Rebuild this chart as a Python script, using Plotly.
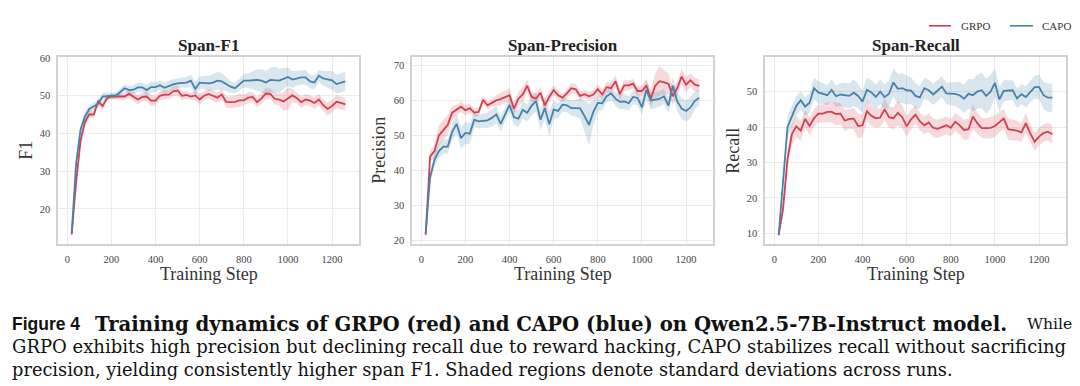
import plotly.graph_objects as go

steps = list(range(20, 1261, 20))

f1_grpo = [13.2, 27, 38, 43, 45.1, 45, 48.5, 47.3, 49.3, 49.8, 49.8, 49.8, 49.8, 50.5, 49.8, 49.0, 49.7, 49.8, 48.7, 48.7,
           50.0, 50.3, 50.3, 51.2, 51.4, 50.0, 50.2, 49.8, 50.1, 49.0, 50.0, 50.5, 50.0, 49.5, 50.3, 48.4, 48.3, 48.4, 48.8, 48.8,
           49.5, 49.7, 48.3, 49.3, 50.6, 50.5, 49.2, 49.0, 48.5, 49.2, 50.1, 49.4, 48.3, 49.0, 48.7, 48.1, 49.0, 47.5, 46.5, 47.3,
           48.4, 48.1, 47.7]
f1_grpo_sd = [0.3, 1.0, 1.2, 1.2, 1.0, 1.0, 1.0, 1.2, 0.8, 0.7, 0.8, 0.8, 0.9, 1.0, 1.2, 1.3, 1.2, 1.2, 1.5, 1.3,
              1.2, 1.2, 1.2, 1.3, 1.3, 1.2, 1.0, 1.0, 1.2, 1.5, 1.2, 1.3, 1.4, 1.4, 1.4, 1.5, 1.6, 1.6, 1.8, 1.5,
              1.5, 1.2, 1.4, 1.4, 1.5, 1.4, 1.5, 1.6, 2.5, 3.0, 1.8, 1.4, 1.5, 1.5, 1.4, 1.6, 1.5, 1.5, 1.8, 1.7,
              1.8, 1.8, 1.7]
f1_capo = [13.5, 32, 41, 44.5, 46.5, 47.2, 47.9, 49.8, 50.0, 50.0, 50.0, 51.0, 52.0, 51.5, 51.6, 52.2, 52.2, 51.5, 52.3, 52.3,
           52.8, 52.1, 52.6, 53.0, 53.3, 53.5, 53.5, 54.0, 51.8, 53.5, 53.4, 53.3, 53.5, 54.0, 53.8, 53.1, 52.4, 52.0, 53.0, 54.0,
           54.0, 54.2, 54.2, 54.0, 53.5, 54.2, 54.2, 54.0, 54.5, 55.0, 54.3, 54.7, 54.9, 54.9, 53.8, 53.5, 55.3, 54.6, 54.4, 54.1,
           53.1, 53.5, 53.8]
f1_capo_sd = [0.3, 1.0, 1.2, 1.2, 1.0, 1.0, 1.0, 1.0, 0.8, 0.8, 0.9, 1.0, 1.0, 1.0, 1.2, 1.3, 1.2, 1.4, 1.5, 1.3,
              1.3, 1.5, 1.5, 1.4, 1.3, 1.3, 1.5, 1.6, 2.0, 1.6, 1.8, 2.0, 2.2, 2.4, 2.2, 2.0, 1.6, 1.4, 1.6, 1.8,
              2.0, 2.4, 2.8, 3.0, 3.0, 3.2, 3.5, 3.2, 2.8, 2.5, 2.2, 2.0, 2.0, 2.0, 1.8, 1.8, 1.6, 2.0, 2.2, 2.5,
              2.5, 2.6, 2.6]

pr_grpo = [21.5, 44.0, 45.5, 50.0, 51.5, 53.0, 56.5, 57.3, 58.2, 57.2, 57.8, 56.5, 56.7, 60.2, 58.6, 59.3, 60.0, 60.4, 61.0, 61.5,
           57.6, 60.5, 61.7, 64.2, 61.0, 60.5, 62.2, 58.6, 61.0, 63.0, 61.5, 60.8, 62.0, 63.5, 63.2, 61.3, 61.8, 61.2, 61.7, 63.2,
           61.7, 63.8, 63.5, 65.5, 61.8, 64.3, 64.3, 64.8, 62.7, 62.7, 64.3, 60.5, 64.2, 65.5, 65.2, 64.8, 61.2, 63.5, 66.8, 64.5,
           65.8, 64.5, 64.2]
pr_grpo_sd = [0.3, 1.5, 2.0, 3.0, 3.0, 2.8, 2.0, 1.5, 1.5, 1.5, 1.4, 1.2, 1.2, 1.2, 1.2, 1.2, 1.5, 1.8, 1.8, 2.0,
              1.8, 2.0, 2.2, 1.8, 1.5, 1.4, 1.6, 2.0, 1.6, 1.4, 1.3, 1.2, 1.4, 1.5, 1.4, 1.2, 1.2, 1.2, 1.3, 1.4,
              1.4, 1.5, 1.6, 1.8, 1.6, 1.6, 1.4, 1.4, 1.5, 1.6, 2.0, 2.5, 3.5, 4.2, 3.5, 3.0, 2.5, 2.0, 2.2, 2.2,
              2.0, 2.0, 1.8]
pr_capo = [22.0, 38.0, 43.0, 45.5, 46.8, 46.8, 51.0, 53.3, 49.2, 50.7, 50.5, 54.5, 54.0, 54.2, 54.3, 55.0, 56.0, 53.3, 56.0, 58.7,
           55.2, 54.8, 57.3, 56.5, 58.5, 59.8, 54.5, 57.8, 53.2, 57.4, 57.0, 58.8, 58.6, 57.8, 57.8, 57.7, 55.5, 53.0, 56.7, 59.3,
           59.2, 61.2, 62.0, 60.5, 59.6, 59.7, 59.2, 61.0, 60.7, 58.0, 63.0, 60.0, 60.2, 60.5, 61.2, 58.5, 64.2, 59.7, 57.7, 57.0,
           58.0, 59.9, 60.8]
pr_capo_sd = [0.3, 1.5, 2.0, 2.0, 2.0, 2.0, 2.5, 2.8, 3.0, 3.2, 3.0, 2.2, 2.0, 2.0, 2.2, 2.5, 2.5, 2.2, 2.0, 2.0,
              2.2, 2.5, 2.5, 2.5, 2.8, 3.0, 3.0, 3.2, 3.5, 2.5, 2.2, 2.0, 2.0, 2.2, 2.5, 3.0, 4.5, 6.0, 3.5, 2.5,
              2.0, 1.8, 1.8, 2.0, 2.2, 2.2, 2.0, 2.0, 2.0, 2.2, 2.8, 2.5, 2.2, 2.2, 2.2, 2.2, 2.5, 2.8, 3.0, 3.0,
              3.0, 2.5, 2.2]

rc_grpo = [9.5, 17.0, 31.0, 38.0, 40.2, 39.0, 42.3, 40.3, 42.5, 43.8, 43.8, 44.3, 44.3, 43.7, 43.8, 41.8, 42.3, 42.4, 40.3, 40.5,
           44.5, 43.2, 42.5, 42.7, 45.0, 42.8, 42.5, 44.0, 42.8, 40.2, 42.2, 43.5, 41.6, 40.5, 41.3, 39.8, 39.5, 40.0, 40.5, 39.8,
           41.5, 40.5, 39.2, 39.4, 43.0, 41.1, 39.7, 39.7, 39.8, 40.3, 41.3, 42.4, 39.4, 39.2, 39.0, 38.5, 41.1, 38.2, 35.9, 37.3,
           38.3, 38.7, 38.0]
rc_grpo_sd = [0.3, 1.5, 2.5, 3.0, 3.0, 2.8, 2.5, 2.5, 2.5, 2.5, 2.6, 2.8, 3.0, 3.2, 3.0, 3.0, 2.8, 3.0, 3.5, 3.2,
              3.0, 2.8, 2.6, 2.6, 3.0, 3.0, 3.2, 3.5, 3.2, 3.0, 2.8, 2.5, 2.5, 2.5, 2.6, 2.6, 2.6, 2.5, 2.5, 2.5,
              2.5, 2.6, 2.8, 3.0, 3.5, 3.0, 2.8, 2.8, 3.0, 3.0, 3.0, 2.8, 3.0, 3.0, 2.8, 2.6, 2.8, 2.6, 2.6, 2.5,
              2.5, 2.5, 2.5]
rc_capo = [9.5, 25.0, 40.0, 43.0, 46.0, 47.6, 45.8, 46.9, 51.0, 49.8, 49.5, 49.0, 50.5, 48.7, 49.2, 49.0, 48.8, 49.7, 48.8, 47.2,
           50.5, 49.8, 48.5, 50.0, 48.5, 49.4, 52.6, 50.8, 51.0, 50.4, 50.3, 48.8, 48.4, 51.0, 50.4, 49.2, 50.3, 51.4, 49.5, 49.4,
           49.4, 49.0, 48.0, 49.4, 49.0, 50.0, 50.4, 48.8, 50.0, 52.5, 47.8, 50.2, 50.4, 50.4, 48.1, 49.3, 48.5, 50.0, 51.3, 51.3,
           49.0, 48.3, 48.3]
rc_capo_sd = [0.3, 2.0, 3.0, 3.0, 2.8, 2.6, 2.6, 2.8, 3.0, 3.2, 3.0, 2.8, 3.0, 3.0, 3.2, 3.5, 3.5, 3.8, 3.5, 3.2,
              3.5, 3.5, 3.5, 3.5, 3.5, 3.8, 4.0, 4.2, 4.2, 4.0, 3.8, 3.5, 3.2, 3.0, 3.0, 3.0, 3.0, 3.0, 3.0, 3.2,
              3.5, 3.8, 4.0, 4.2, 4.5, 4.8, 5.0, 5.0, 4.8, 4.0, 3.5, 3.0, 2.8, 2.8, 2.8, 2.8, 3.0, 3.0, 3.2, 3.5,
              3.8, 4.0, 4.0]

panel_titles = ["Span-F1", "Span-Precision", "Span-Recall"]
y_titles = ["F1", "Precision", "Recall"]
x_title = "Training Step"
x_ticks = [0, 200, 400, 600, 800, 1000, 1200]
y_ticks = [[20, 30, 40, 50, 60], [20, 30, 40, 50, 60, 70], [10, 20, 30, 40, 50]]
y_ranges = [[10.6, 60.2], [18.8, 72.35], [6.9, 59.7]]
series_names = ["GRPO", "CAPO"]

RED = "#d1404f"
BLUE = "#4682a9"
RED_FILL = "rgba(209,64,79,0.2)"
BLUE_FILL = "rgba(70,130,169,0.2)"

W, H = 1080, 386
px_domains = [(50, 351), (404, 705), (757, 1058)]
ytitle_x = [18, 371, 725]
top_px, bot_px = 45, 235

panels = [
    [(f1_grpo, f1_grpo_sd), (f1_capo, f1_capo_sd)],
    [(pr_grpo, pr_grpo_sd), (pr_capo, pr_capo_sd)],
    [(rc_grpo, rc_grpo_sd), (rc_capo, rc_capo_sd)],
]

fig = go.Figure()
serif = "Liberation Serif"
cap_font = "DejaVu Serif"

for i, panel in enumerate(panels):
    xa = "x" if i == 0 else f"x{i+1}"
    ya = "y" if i == 0 else f"y{i+1}"
    for j, (mean, sd) in enumerate(panel):
        fill_c = RED_FILL if j == 0 else BLUE_FILL
        upper = [m + s for m, s in zip(mean, sd)]
        lower = [m - s for m, s in zip(mean, sd)]
        fig.add_trace(go.Scatter(
            x=steps + steps[::-1], y=upper + lower[::-1], fill="toself",
            fillcolor=fill_c, line=dict(width=0), mode="lines",
            hoverinfo="skip", showlegend=False, xaxis=xa, yaxis=ya))
    for j, (mean, sd) in enumerate(panel):
        line_c = RED if j == 0 else BLUE
        fig.add_trace(go.Scatter(
            x=steps, y=mean, mode="lines", line=dict(color=line_c, width=1.8),
            name=series_names[j], showlegend=False, xaxis=xa, yaxis=ya))

axis_common = dict(showgrid=True, gridcolor="#ebebeb", gridwidth=1, zeroline=False,
                   showline=True, linecolor="#d2d2d2", linewidth=1.5, mirror=True,
                   ticks="", tickfont=dict(family=serif, size=10.5, color="#444444"))

layout = dict(width=W, height=H, margin=dict(l=0, r=0, t=0, b=0),
              paper_bgcolor="white", plot_bgcolor="white", showlegend=False)

annotations = []
shapes = []
for i in range(3):
    xk = "xaxis" if i == 0 else f"xaxis{i+1}"
    yk = "yaxis" if i == 0 else f"yaxis{i+1}"
    x0, x1 = px_domains[i]
    layout[xk] = dict(axis_common, domain=[x0 / W, x1 / W], range=[-42, 1322],
                      tickvals=x_ticks, anchor="y" if i == 0 else f"y{i+1}", ticklabelstandoff=4)
    layout[yk] = dict(axis_common, domain=[1 - bot_px / H, 1 - top_px / H], range=y_ranges[i],
                      tickvals=y_ticks[i], anchor="x" if i == 0 else f"x{i+1}", ticklabelstandoff=4)
    annotations.append(dict(text=f"<b>{panel_titles[i]}</b>", x=(x0 + x1) / 2 / W, y=1 - 33 / H,
                            xref="paper", yref="paper", showarrow=False, xanchor="center", yanchor="middle",
                            font=dict(family=serif, size=17, color="#222222")))
    annotations.append(dict(text=x_title, x=(x0 + x1) / 2 / W, y=1 - 265 / H,
                            xref="paper", yref="paper", showarrow=False, xanchor="center", yanchor="middle",
                            font=dict(family=serif, size=18, color="#333333")))
    annotations.append(dict(text=y_titles[i], x=ytitle_x[i] / W, y=1 - 140 / H, textangle=-90,
                            xref="paper", yref="paper", showarrow=False, xanchor="center", yanchor="middle",
                            font=dict(family=serif, size=18, color="#333333")))

# legend (drawn manually to match short handles)
leg_items = [(series_names[0], RED, 921, 943, 952), (series_names[1], BLUE, 1002, 1025, 1033)]
for name, col, lx0, lx1, tx in leg_items:
    shapes.append(dict(type="line", xref="paper", yref="paper", x0=lx0 / W, x1=lx1 / W,
                       y0=1 - 13 / H, y1=1 - 13 / H, line=dict(color=col, width=1.6)))
    annotations.append(dict(text=name, x=tx / W, y=1 - 13 / H, xref="paper", yref="paper",
                            showarrow=False, xanchor="left", yanchor="middle", borderpad=0,
                            font=dict(family=serif, size=11, color="#333333")))

# caption
cap_items = [
    ("<b>Figure 4</b>", 3, 316, "Liberation Sans", 17.5),
    ("<b>Training dynamics of GRPO (red) and CAPO (blue) on Qwen2.5-7B-Instruct model.</b>", 86, 316, cap_font, 19.7),
    ("While", 1018, 316, cap_font, 15.6),
    ("GRPO exhibits high precision but declining recall due to reward hacking, CAPO stabilizes recall without sacrificing",
     3, 339, cap_font, 18.0),
    ("precision, yielding consistently higher span F1. Shaded regions denote standard deviations across runs.",
     3, 362, cap_font, 17.8),
]
for text, xx, yy, fam, fs in cap_items:
    annotations.append(dict(text=text, x=xx / W, y=1 - yy / H, xref="paper", yref="paper", showarrow=False,
                            xanchor="left", yanchor="middle", borderpad=0,
                            font=dict(family=fam, size=fs, color="#111111")))

layout["annotations"] = annotations
layout["shapes"] = shapes
fig.update_layout(**layout)
fig.write_html("out.html")
